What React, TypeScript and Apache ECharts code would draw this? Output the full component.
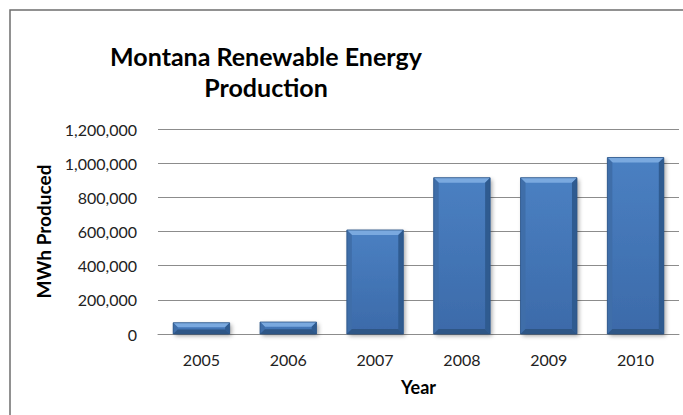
import React, { useEffect, useRef } from "react";
import * as echarts from "echarts";

const years = ["2005", "2006", "2007", "2008", "2009", "2010"];
const production = [66000, 70000, 609000, 915000, 915000, 1033000];
const yMin = 0;
const yMax = 1200000;
const yStep = 200000;
const titleLines = ["Montana Renewable Energy", "Production"];
const xName = "Year";
const yName = "MWh Produced";

const FONT = "Lato, 'Open Sans', sans-serif";

export default function App() {
  const ref = useRef<HTMLDivElement>(null);
  useEffect(() => {
    if (!ref.current) return;
    const chart = echarts.init(ref.current, undefined, { renderer: "svg" });
    const barFrac = 0.65;
    const option = {
      animation: false,
      backgroundColor: "#ffffff",
      graphic: [
        {
          type: "rect",
          silent: true,
          shape: { x: 10, y: 10, width: 720, height: 460 },
          style: { fill: "none", stroke: "#6e6e6e", lineWidth: 1.5 },
          z: 0,
        },
        {
          type: "text",
          x: 266,
          y: 56,
          style: {
            text: titleLines[0],
            fontFamily: FONT,
            fontWeight: "bold",
            fontSize: 25,
            fill: "#000",
            textAlign: "center",
            textVerticalAlign: "middle",
          },
        },
        {
          type: "text",
          x: 266,
          y: 87,
          style: {
            text: titleLines[1],
            fontFamily: FONT,
            fontWeight: "bold",
            fontSize: 25,
            fill: "#000",
            textAlign: "center",
            textVerticalAlign: "middle",
          },
        },
      ],
      grid: { left: 158, right: 4, top: 129, bottom: 81, containLabel: false },
      xAxis: {
        type: "category",
        data: years,
        name: xName,
        nameLocation: "middle",
        nameGap: 44,
        nameTextStyle: { fontFamily: FONT, fontWeight: "bold", fontSize: 18, color: "#000" },
        axisTick: { show: false },
        axisLine: { show: true, lineStyle: { color: "#8c8c8c", width: 1 } },
        axisLabel: { margin: 17, fontFamily: FONT, fontSize: 16, color: "#222" },
      },
      yAxis: {
        type: "value",
        min: yMin,
        max: yMax,
        interval: yStep,
        name: yName,
        nameLocation: "middle",
        nameGap: 105,
        nameTextStyle: { fontFamily: FONT, fontWeight: "bold", fontSize: 19, color: "#000" },
        axisLine: { show: false },
        axisTick: { show: false },
        splitLine: { lineStyle: { color: "#8c8c8c", width: 1 } },
        axisLabel: {
          margin: 21,
          fontFamily: FONT,
          fontSize: 16,
          color: "#222",
          formatter: (v: number) => v.toLocaleString("en-US"),
        },
      },
      series: [
        {
          type: "bar",
          data: production,
          barWidth: barFrac * 100 + "%",
          itemStyle: {
            color: new echarts.graphic.LinearGradient(0, 0, 0, 1, [
              { offset: 0, color: "#4a80c2" },
              { offset: 1, color: "#3c6aa9" },
            ]),
            shadowColor: "rgba(0,0,0,0.35)",
            shadowBlur: 4,
            shadowOffsetX: 2,
            shadowOffsetY: 2,
          },
          z: 2,
        },
        {
          type: "custom",
          silent: true,
          z: 3,
          data: production.map((v, i) => [i, v]),
          encode: { x: 0, y: 1 },
          renderItem: (params: any, api: any) => {
            const i = api.value(0);
            const v = api.value(1);
            const top = api.coord([i, v]);
            const base = api.coord([i, 0]);
            const w = api.size([1, 0])[0] * barFrac;
            const x0 = top[0] - w / 2;
            const x1 = top[0] + w / 2;
            const y0 = top[1];
            const y1 = base[1];
            const b = Math.min(5, (y1 - y0) / 2.5);
            return {
              type: "group",
              children: [
                {
                  type: "polygon",
                  shape: { points: [[x0, y0], [x1, y0], [x1 - b, y0 + b], [x0 + b, y0 + b]] },
                  style: { fill: "#7aa9df" },
                },
                {
                  type: "polygon",
                  shape: { points: [[x0, y0], [x0 + b, y0 + b], [x0 + b, y1 - b], [x0, y1]] },
                  style: { fill: "#3f6ea9" },
                },
                {
                  type: "polygon",
                  shape: { points: [[x1, y0], [x1, y1], [x1 - b, y1 - b], [x1 - b, y0 + b]] },
                  style: { fill: "#2f5b90" },
                },
                {
                  type: "polygon",
                  shape: { points: [[x0, y1], [x0 + b, y1 - b], [x1 - b, y1 - b], [x1, y1]] },
                  style: { fill: "#2e5686" },
                },
                {
                  type: "rect",
                  shape: { x: x0, y: y0, width: w, height: y1 - y0 },
                  style: { fill: "none", stroke: "#2b5487", lineWidth: 0.8 },
                },
              ],
            };
          },
        },
      ],
    };
    chart.setOption(option as any);
    return () => chart.dispose();
  }, []);
  return (
    <div
      ref={ref}
      style={{ position: "fixed", left: 0, top: 0, width: 683, height: 415 }}
    />
  );
}
